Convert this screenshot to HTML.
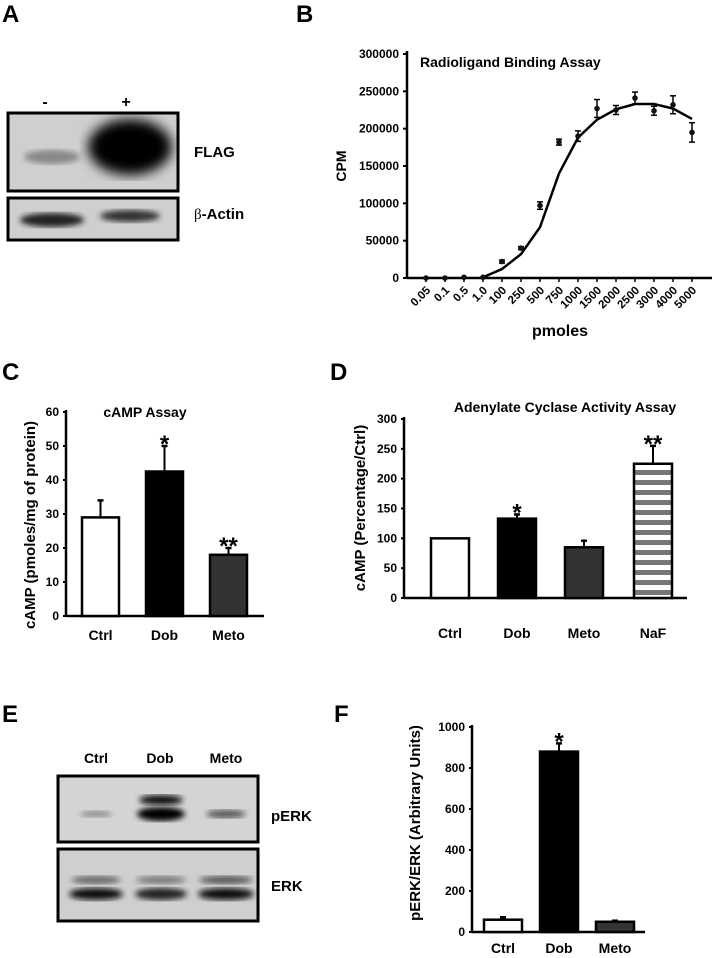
<!DOCTYPE html>
<html><head><meta charset="utf-8"><style>
body{margin:0;background:#fff;}
svg{display:block;font-family:"Liberation Sans",Arial,sans-serif;font-weight:bold;}
</style></head><body>
<svg id="fig" width="712" height="958" viewBox="0 0 712 958">
<defs>
<filter id="blur3"><feGaussianBlur stdDeviation="3"/></filter>
<filter id="blur6"><feGaussianBlur stdDeviation="6"/></filter>
<pattern id="stripes" width="10" height="10" patternUnits="userSpaceOnUse"><rect width="10" height="10" fill="#fff"/><rect y="0" width="10" height="5" fill="#777"/></pattern>
</defs>
<g>
<text x="2" y="22" font-size="24">A</text>
<text x="45" y="107" font-size="16" text-anchor="middle">-</text>
<text x="126" y="107" font-size="16" text-anchor="middle">+</text>
<g>
<rect x="8" y="113" width="170" height="78" fill="#cfcfcf" stroke="#000" stroke-width="3"/>
<ellipse cx="52" cy="157" rx="28" ry="7" fill="#888" filter="url(#blur3)"/>
<ellipse cx="130" cy="147" rx="42" ry="28" fill="#000" filter="url(#blur6)"/>
</g>
<text x="194" y="157" font-size="15">FLAG</text>
<g>
<rect x="8" y="198" width="170" height="42" fill="#cfcfcf" stroke="#000" stroke-width="3"/>
<ellipse cx="52" cy="220" rx="32" ry="7" fill="#222" filter="url(#blur3)"/>
<ellipse cx="130" cy="216" rx="30" ry="6" fill="#333" filter="url(#blur3)"/>
</g>
<text x="194" y="219" font-size="15"><tspan font-weight="normal" font-family="Liberation Serif">β</tspan>-Actin</text>
</g>
<text x="296" y="22" font-size="24">B</text>
<g id="panelB"></g>
<text x="2" y="380" font-size="24">C</text>
<g id="panelC"></g>
<text x="330" y="380" font-size="24">D</text>
<g id="panelD"></g>
<text x="2" y="722" font-size="24">E</text>
<g>
<text x="96" y="763" font-size="14" text-anchor="middle">Ctrl</text>
<text x="160" y="763" font-size="14" text-anchor="middle">Dob</text>
<text x="226" y="763" font-size="14" text-anchor="middle">Meto</text>
<g>
<rect x="58" y="776" width="200" height="66" fill="#d4d4d4" stroke="#000" stroke-width="3"/>
<ellipse cx="96" cy="814" rx="16" ry="3" fill="#888" filter="url(#blur3)"/>
<ellipse cx="161" cy="800" rx="22" ry="5" fill="#111" filter="url(#blur3)"/>
<ellipse cx="161" cy="814" rx="24" ry="7" fill="#000" filter="url(#blur3)"/>
<ellipse cx="226" cy="814" rx="20" ry="4" fill="#555" filter="url(#blur3)"/>
</g>
<text x="271" y="821" font-size="15">pERK</text>
<g>
<rect x="58" y="849" width="200" height="72" fill="#cfcfcf" stroke="#000" stroke-width="3"/>
<ellipse cx="96" cy="880" rx="25" ry="4" fill="#666" filter="url(#blur3)"/>
<ellipse cx="161" cy="880" rx="25" ry="4" fill="#777" filter="url(#blur3)"/>
<ellipse cx="226" cy="880" rx="27" ry="4" fill="#555" filter="url(#blur3)"/>
<ellipse cx="96" cy="894" rx="27" ry="6" fill="#111" filter="url(#blur3)"/>
<ellipse cx="161" cy="894" rx="26" ry="6" fill="#222" filter="url(#blur3)"/>
<ellipse cx="226" cy="894" rx="28" ry="6" fill="#111" filter="url(#blur3)"/>
</g>
<text x="271" y="891" font-size="15">ERK</text>
</g>
<text x="334" y="722" font-size="24">F</text>
<g id="panelF"></g>
</svg>
<script>
// Panel B data
const bCategories = ["0.05","0.1","0.5","1.0","100","250","500","750","1000","1500","2000","2500","3000","4000","5000"];
const bPoints = [0,0,1000,1000,22000,40000,97000,182000,190000,227000,225000,241000,224000,232000,195000];
const bErrors = [0,0,0,0,2000,2000,5000,4000,7000,12000,6000,8000,6000,12000,13000];
const bFit = [null,null,null,1000,12000,32000,68000,140000,188000,212000,226000,233000,233000,227000,213000];
const bTicks = [0,50000,100000,150000,200000,250000,300000];
// Panel C data
const cCategories = ["Ctrl","Dob","Meto"];
const cValues = [29,42.5,18];
const cErrors = [5,7.5,2];
const cSig = ["","*","**"];
const cTicks = [0,10,20,30,40,50,60];
// Panel D data
const dCategories = ["Ctrl","Dob","Meto","NaF"];
const dValues = [100,133,85,225];
const dErrors = [0,7,11,30];
const dSig = ["","*","","**"];
const dTicks = [0,50,100,150,200,250,300];
// Panel F data
const fCategories = ["Ctrl","Dob","Meto"];
const fValues = [60,880,50];
const fErrors = [12,40,5];
const fSig = ["","*",""];
const fTicks = [0,200,400,600,800,1000];

const NS="http://www.w3.org/2000/svg";
function mk(parent,tag,attrs,text){const e=document.createElementNS(NS,tag);for(const k in attrs)e.setAttribute(k,attrs[k]);if(text!==undefined)e.textContent=text;parent.appendChild(e);return e;}

// Panel B
(function(){
  const g=document.getElementById('panelB');
  const x0=407,yBase=278,yTop=54,xFirst=426,xStep=19;
  const y=v=>yBase-(v/300000)*(yBase-yTop);
  const x=i=>xFirst+i*xStep;
  let e=mk(g,'line',{x1:x0,y1:yTop-3,x2:x0,y2:yBase,stroke:'#000','stroke-width':2.5});
  
  e=mk(g,'line',{x1:x0,y1:yBase,x2:712,y2:yBase,stroke:'#000','stroke-width':2.5});
  
  bTicks.forEach(t=>{
    mk(g,'line',{x1:x0-4,y1:y(t),x2:x0,y2:y(t),stroke:'#000','stroke-width':2});
    e=mk(g,'text',{x:x0-8,y:y(t)+4,'font-size':12,'text-anchor':'end'},String(t));
    
  });
  bCategories.forEach((c,i)=>{
    mk(g,'line',{x1:x(i),y1:yBase,x2:x(i),y2:yBase+4,stroke:'#000','stroke-width':1.5});
    e=mk(g,'text',{x:x(i)+5,y:yBase+13,'font-size':11.5,'text-anchor':'end',transform:`rotate(-45 ${x(i)+5} ${yBase+13})`},c);
    
  });
  let d='';bFit.forEach((v,i)=>{if(v===null)return;d+=(d?'L':'M')+x(i)+' '+y(v);});
  e=mk(g,'path',{d:d,fill:'none',stroke:'#000','stroke-width':2.5});
  
  bPoints.forEach((v,i)=>{
    if(bErrors[i]>0){
      mk(g,'line',{x1:x(i),y1:y(v-bErrors[i]),x2:x(i),y2:y(v+bErrors[i]),stroke:'#000','stroke-width':1.5});
      mk(g,'line',{x1:x(i)-3,y1:y(v+bErrors[i]),x2:x(i)+3,y2:y(v+bErrors[i]),stroke:'#000','stroke-width':1.5});
      mk(g,'line',{x1:x(i)-3,y1:y(v-bErrors[i]),x2:x(i)+3,y2:y(v-bErrors[i]),stroke:'#000','stroke-width':1.5});
    }
    e=mk(g,'circle',{cx:x(i),cy:y(v),r:2.8,fill:'#111'});
    
  });
  e=mk(g,'text',{x:420,y:67,'font-size':14},'Radioligand Binding Assay');
  
  e=mk(g,'text',{x:560,y:336,'font-size':16,'text-anchor':'middle'},'pmoles');
  
  e=mk(g,'text',{x:0,y:0,'font-size':14,'text-anchor':'middle',transform:'translate(346 166) rotate(-90)'},'CPM');
  
})();

function barChart(id,cfg){
  const g=document.getElementById(id);
  const {x0,xEnd,yBase,yTop,vmax,lefts,bw,cats,vals,errs,sigs,ticks,fills,title,tx,ty,ytitle,ytx,yty,catY}=cfg;
  const y=v=>yBase-(v/vmax)*(yBase-yTop);
  let e=mk(g,'line',{x1:x0,y1:yTop-2,x2:x0,y2:yBase,stroke:'#000','stroke-width':2.5});
  
  e=mk(g,'line',{x1:x0,y1:yBase,x2:xEnd,y2:yBase,stroke:'#000','stroke-width':2.5});
  
  ticks.forEach(t=>{
    mk(g,'line',{x1:x0-3,y1:y(t),x2:x0,y2:y(t),stroke:'#000','stroke-width':2});
    e=mk(g,'text',{x:x0-7,y:y(t)+4,'font-size':12,'text-anchor':'end'},String(t));
    
  });
  cats.forEach((c,i)=>{
    const l=lefts[i],v=vals[i],cx=l+bw/2;
    if(errs[i]>0){
      mk(g,'line',{x1:cx,y1:y(v),x2:cx,y2:y(v+errs[i]),stroke:'#000','stroke-width':2});
      mk(g,'line',{x1:cx-3,y1:y(v+errs[i]),x2:cx+3,y2:y(v+errs[i]),stroke:'#000','stroke-width':2.5});
    }
    e=mk(g,'rect',{x:l,y:y(v),width:bw,height:yBase-y(v),fill:fills[i],stroke:'#000','stroke-width':2.5});
    
    if(sigs[i]){e=mk(g,'text',{x:cx,y:y(v+errs[i])+6,'font-size':24,'text-anchor':'middle'},sigs[i]);
      }
    e=mk(g,'text',{x:cx,y:catY,'font-size':14,'text-anchor':'middle'},c);
    
  });
  if(title){e=mk(g,'text',{x:tx,y:ty,'font-size':14,'text-anchor':'middle'},title);
    }
  e=mk(g,'text',{x:0,y:0,'font-size':15,'text-anchor':'middle',transform:`translate(${ytx} ${yty}) rotate(-90)`},ytitle);
  
}
barChart('panelC',{x0:66,xEnd:264,yBase:616,yTop:412,vmax:60,lefts:[82,146,210],bw:37,cats:cCategories,vals:cValues,errs:cErrors,sigs:cSig,ticks:cTicks,fills:['#fff','#000','#333'],title:'cAMP Assay',tx:145,ty:417,ytitle:'cAMP (pmoles/mg of protein)',ytx:35,yty:525,catY:640});
barChart('panelD',{x0:404,xEnd:687,yBase:598,yTop:419,vmax:300,lefts:[431,498,565,634],bw:38,cats:dCategories,vals:dValues,errs:dErrors,sigs:dSig,ticks:dTicks,fills:['#fff','#000','#333','url(#stripes)'],title:'Adenylate Cyclase Activity Assay',tx:565,ty:412,ytitle:'cAMP (Percentage/Ctrl)',ytx:365,yty:508,catY:638});
barChart('panelF',{x0:472,xEnd:645,yBase:932,yTop:727,vmax:1000,lefts:[484,540,596],bw:38,cats:fCategories,vals:fValues,errs:fErrors,sigs:fSig,ticks:fTicks,fills:['#fff','#000','#333'],title:'',tx:0,ty:0,ytitle:'pERK/ERK (Arbitrary Units)',ytx:420,yty:823,catY:953});
</script>
</body></html>
